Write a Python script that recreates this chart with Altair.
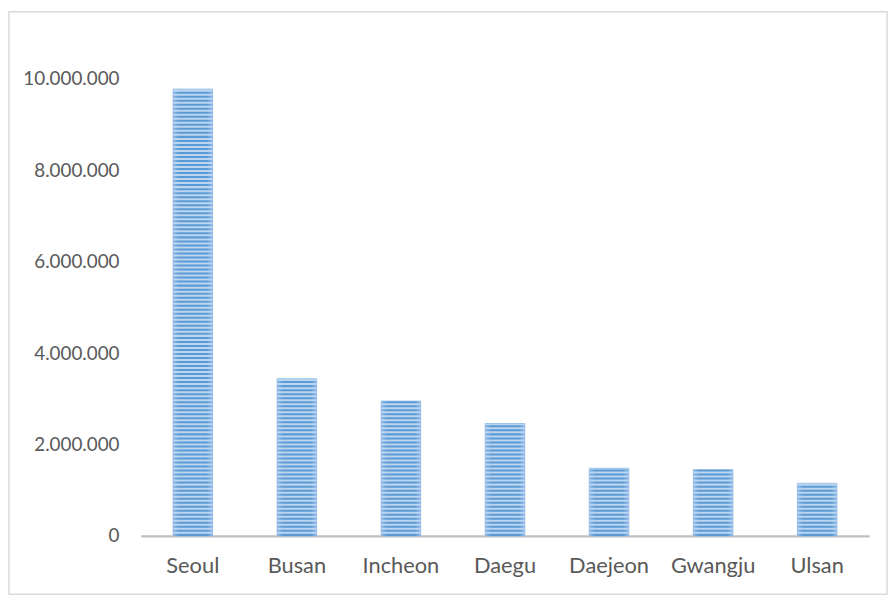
import altair as alt
import pandas as pd

cities = ["Seoul", "Busan", "Incheon", "Daegu", "Daejeon", "Gwangju", "Ulsan"]
population = [9780000, 3440000, 2950000, 2460000, 1480000, 1450000, 1150000]
y_ticks = [0, 2000000, 4000000, 6000000, 8000000, 10000000]

df = pd.DataFrame({"city": cities, "value": population})

W, H = 886, 588

x_enc = alt.X("city:N", sort=cities,
              scale=alt.Scale(range=[133, 868], paddingInner=0.62, paddingOuter=0.31),
              axis=alt.Axis(title=None, orient="bottom", offset=-(H - 529), ticks=False,
                            domainColor="#bfbfbf", domainWidth=2.5, labelAngle=0,
                            labelPadding=20, labelFontSize=22, labelFont="Lato",
                            labelColor="#595959"))

y_scale = alt.Scale(domain=[0, 10000000], range=[529, 68])

base = alt.Chart(df).mark_bar(color="#bcd5f0", stroke="#9cc2ea", strokeWidth=1).encode(
    x=x_enc,
    y=alt.Y("value:Q", scale=y_scale,
            axis=alt.Axis(title=None, orient="left", offset=-111, values=y_ticks,
                          format=",d", ticks=False, tickSize=0, domain=False, grid=False,
                          labelPadding=0, labelFontSize=19, labelFont="Lato",
                          labelColor="#595959")),
)

stripe_fill = alt.Gradient(
    gradient="linear", x1=0, x2=1, y1=0, y2=0,
    stops=[alt.GradientStop(offset=0, color="#8fb8e6"),
           alt.GradientStop(offset=0.15, color="#5b9bd5"),
           alt.GradientStop(offset=0.85, color="#5b9bd5"),
           alt.GradientStop(offset=1, color="#8fb8e6")],
)

stripes = alt.Chart(df).transform_calculate(
    s="sequence(0, datum.value - 40000, 88000)"
).transform_flatten(["s"]).transform_calculate(
    s2="min(datum.s + 44000, datum.value)"
).mark_bar(color=stripe_fill).encode(
    x=alt.X("city:N", sort=cities,
            scale=alt.Scale(range=[133, 868], paddingInner=0.62, paddingOuter=0.31)),
    y=alt.Y("s:Q", scale=y_scale),
    y2="s2:Q",
)

chart = alt.layer(base, stripes).properties(
    width=W, height=H,
    autosize=alt.AutoSizeParams(type="none"),
    padding=1,
).configure(
    background="white",
    locale={"number": {"decimal": ",", "thousands": ".", "grouping": [3],
                       "currency": ["", ""]}},
).configure_view(
    stroke="#d9d9d9", strokeWidth=1.5
)

chart.save("out.html", embed_options={"renderer": "svg", "actions": False})
